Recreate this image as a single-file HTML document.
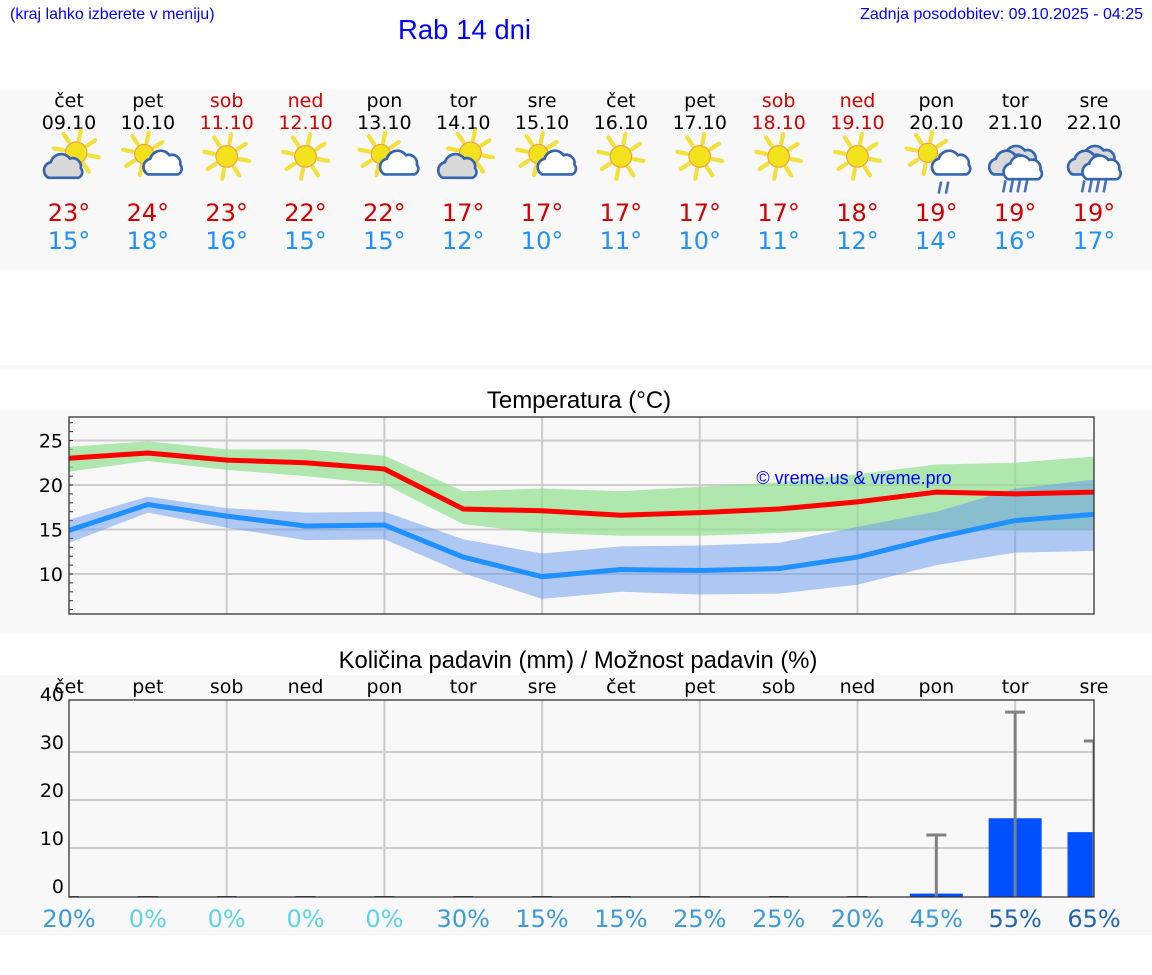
<!DOCTYPE html>
<html><head><meta charset="utf-8"><style>
body{margin:0;width:1152px;height:975px;background:#fff;font-family:"DejaVu Sans","Liberation Sans",sans-serif;position:relative;overflow:hidden}
.abs{position:absolute}
</style></head><body>
<div class="abs" style="left:10px;top:6px;font:16px 'Liberation Sans',sans-serif;color:#0000ff">(kraj lahko izberete v meniju)</div>
<div class="abs" style="left:398px;top:14px;font:27.5px 'Liberation Sans',sans-serif;color:#0000ff">Rab 14 dni</div>
<div class="abs" style="right:9px;top:6px;font:16px 'Liberation Sans',sans-serif;color:#0000ff">Zadnja posodobitev: 09.10.2025 - 04:25</div>
<svg id="svg" class="abs" style="left:0;top:0" width="1152" height="975"></svg>
<script>
const days=["čet","pet","sob","ned","pon","tor","sre","čet","pet","sob","ned","pon","tor","sre"];
const dates=["09.10","10.10","11.10","12.10","13.10","14.10","15.10","16.10","17.10","18.10","19.10","20.10","21.10","22.10"];
const weekend=[0,0,1,1,0,0,0,0,0,1,1,0,0,0];
const icons=["cloudsun","suncloud","sun","sun","suncloud","cloudsun","suncloud","sun","sun","sun","sun","sunrain","rain","rain"];
const hiLabels=[23,24,23,22,22,17,17,17,17,17,18,19,19,19];
const loLabels=[15,18,16,15,15,12,10,11,10,11,12,14,16,17];
const maxT=[23,23.6,22.8,22.5,21.8,17.3,17.1,16.6,16.9,17.3,18.1,19.2,19.0,19.2];
const maxHi=[24.3,24.9,24.0,24.0,23.3,19.3,19.6,19.3,19.8,20.3,21.2,22.3,22.5,23.2];
const maxLo=[21.5,22.7,21.7,21.0,20.1,15.6,14.6,14.3,14.3,14.6,15.0,15.0,15.0,15.0];
const minT=[14.9,17.8,16.5,15.4,15.5,11.9,9.7,10.5,10.4,10.6,11.9,14.1,16.0,16.7];
const minHi=[16.1,18.7,17.4,16.9,17.0,13.9,12.3,13.1,13.2,13.5,15.3,17.0,19.6,20.6];
const minLo=[13.5,16.9,15.2,13.8,13.9,10.1,7.2,8.0,7.7,7.8,8.8,11.0,12.4,12.6];
const tTicks=[10,15,20,25];
const precip=[0,0,0,0,0,0,0,0,0,0,0,0.5,16.2,13.3];
const precipMax=[0,0,0,0,0,0,0,0,0,0,0,12.7,38.3,32.3];
const chance=[20,0,0,0,0,30,15,15,25,25,20,45,55,65];
const pTicks=[0,10,20,30,40];

const S=document.getElementById('svg'),NS="http://www.w3.org/2000/svg";
function el(t,a,p){const e=document.createElementNS(NS,t);for(const k in a)e.setAttribute(k,a[k]);(p||S).appendChild(e);return e}
const X=i=>69+i*(1025/13);
const yT=v=>485-8.9*(v-20);
const yP=v=>896-4.8*v;
let r;
r=el('rect',{x:0,y:90,width:1152,height:180,fill:'#f8f8f8'});
el('rect',{x:0,y:365,width:1152,height:5,fill:'#f8f8f8'});
r=el('rect',{x:0,y:410,width:1152,height:224,fill:'#f8f8f8'});
r=el('rect',{x:0,y:675,width:1152,height:260,fill:'#f8f8f8'});

function txt(x,y,s,o){const t=el('text',Object.assign({x:x,y:y,'text-anchor':'middle','font-size':19,fill:'#000'},o||{}));t.textContent=s;return t}
function sun(g,cx,cy,r){for(let k=0;k<8;k++){const a=k*Math.PI/4+0.2;el('line',{x1:cx+Math.cos(a)*(r+2),y1:cy+Math.sin(a)*(r+2),x2:cx+Math.cos(a)*(r+10),y2:cy+Math.sin(a)*(r+10),stroke:'#f3e03a','stroke-width':3.5,'stroke-linecap':'round'},g)}el('circle',{cx:cx,cy:cy,r:r,fill:'#f2e21c',stroke:'#f0a040','stroke-width':1},g)}
function cloud(g,cx,cy,s,fill){el('path',{d:`M${cx-12*s},${cy+8*s} a7 7 0 0 1 2,-13 a9 9 0 0 1 16,-3 a7 7 0 0 1 9,8 a5 5 0 0 1 -2,8 z`,fill:fill,stroke:'#3565b0','stroke-width':2.2},g)}
function rain(g,cx,cy,n){for(let k=0;k<n;k++)el('line',{x1:cx+k*6+2,y1:cy,x2:cx+k*6,y2:cy+10,stroke:'#4a70b8','stroke-width':2.2},g)}
for(let i=0;i<14;i++){
  const x=X(i),c=weekend[i]?'#d40000':'#000';
  let t=txt(x,107,days[i],{fill:c});
  t=txt(x,129,dates[i],{fill:c});
  const g=el('g',{transform:`translate(${x},160) scale(1.2) translate(${-x},-160)`});
  const ic=icons[i];
  if(ic=='sun')sun(g,x,157,9);
  if(ic=='suncloud'){sun(g,x-3,155,8);cloud(g,x+12,164,1,'#fff')}
  if(ic=='cloudsun'){sun(g,x+6,154,9);cloud(g,x-4,166,1.1,'#d9d9d9')}
  if(ic=='sunrain'){sun(g,x-7,154,8);cloud(g,x+12,164,1,'#fff');rain(g,x+2,178,2)}
  if(ic=='rain'){cloud(g,x+2,160,1,'#d9d9d9');cloud(g,x-6,164,1,'#d9d9d9');cloud(g,x+6,168,1,'#fff');rain(g,x-10,177,4)}
  t=txt(x,221,hiLabels[i]+'°',{fill:'#d40000','font-size':24});
  t=txt(x,249,loLabels[i]+'°',{fill:'#1e90ff','font-size':24});
}
let tt=txt(579,408,'Temperatura (°C)',{'font-family':'Liberation Sans,sans-serif','font-size':24});
const cp=el('clipPath',{id:'cpT'});el('rect',{x:69,y:417,width:1025,height:197},cp);
const cp2=el('clipPath',{id:'cpP'});el('rect',{x:69,y:700,width:1025,height:197},cp2);
for(let i=2;i<14;i+=2)el('line',{x1:X(i),y1:417,x2:X(i),y2:614,stroke:'#ccc','stroke-width':2});
tTicks.forEach(v=>{el('line',{x1:69,y1:yT(v),x2:1094,y2:yT(v),stroke:'#ccc','stroke-width':2});const l=el('text',{x:63,y:yT(v)+7,'text-anchor':'end','font-size':19});l.textContent=v;});
for(let v=6;v<=27;v++)el('line',{x1:69,y1:yT(v),x2:73,y2:yT(v),stroke:'#333','stroke-width':1});
function band(hi,lo,col,name){let d='';hi.forEach((v,i)=>d+=(i?'L':'M')+X(i)+','+yT(v));for(let i=lo.length-1;i>=0;i--)d+='L'+X(i)+','+yT(lo[i]);const p=el('path',{d:d+'Z',fill:col,'clip-path':'url(#cpT)'});}
function line(a,col,name){const p=el('polyline',{points:a.map((v,i)=>X(i)+','+yT(v)).join(' '),fill:'none',stroke:col,'stroke-width':5,'clip-path':'url(#cpT)'});}
band(maxHi,maxLo,'rgba(144,224,144,0.7)','max-temp-range');
band(minHi,minLo,'rgba(100,149,237,0.5)','min-temp-range');
line(maxT,'#ff0000','max-temp-line');line(minT,'#1e90ff','min-temp-line');
tt=el('text',{x:854,y:484,'text-anchor':'middle','font-size':18,fill:'#0000ff','font-family':'Liberation Sans,sans-serif'});tt.textContent='© vreme.us & vreme.pro';
el('rect',{x:69,y:417,width:1025,height:197,fill:'none',stroke:'#333','stroke-width':1.3});
tt=txt(578,668,'Količina padavin (mm) / Možnost padavin (%)',{'font-family':'Liberation Sans,sans-serif','font-size':23.8});
for(let i=2;i<14;i+=2)el('line',{x1:X(i),y1:700,x2:X(i),y2:897,stroke:'#ccc','stroke-width':2});
pTicks.forEach(v=>{if(v>0&&v<40)el('line',{x1:69,y1:yP(v),x2:1094,y2:yP(v),stroke:'#ccc','stroke-width':2});const l=el('text',{x:64,y:yP(v)-3,'text-anchor':'end','font-size':19});l.textContent=v;});
const pc=v=>v==0?'#5ad4e6':v<50?'#3a9bd8':'#1f63b3';
for(let i=0;i<14;i++){
  let t=txt(X(i),693,days[i]);
  el('line',{x1:X(i)-10,y1:897,x2:X(i)+10,y2:897,stroke:'#555','stroke-width':2,'clip-path':'url(#cpP)'});
  if(precip[i]>0){const b=el('rect',{x:X(i)-26.5,y:yP(precip[i]),width:53,height:896-yP(precip[i])+1,fill:'#0050ff','clip-path':'url(#cpP)'});}
  if(precipMax[i]>0){const g=el('g',{'clip-path':'url(#cpP)'});el('line',{x1:X(i),y1:897,x2:X(i),y2:yP(precipMax[i]),stroke:'#808080','stroke-width':3},g);el('line',{x1:X(i)-10,y1:yP(precipMax[i]),x2:X(i)+10,y2:yP(precipMax[i]),stroke:'#808080','stroke-width':3},g)}
  t=txt(X(i),927,chance[i]+'%',{fill:pc(chance[i]),'font-size':24});
}
el('rect',{x:69,y:700,width:1025,height:197,fill:'none',stroke:'#333','stroke-width':1.3});
</script>
</body></html>
